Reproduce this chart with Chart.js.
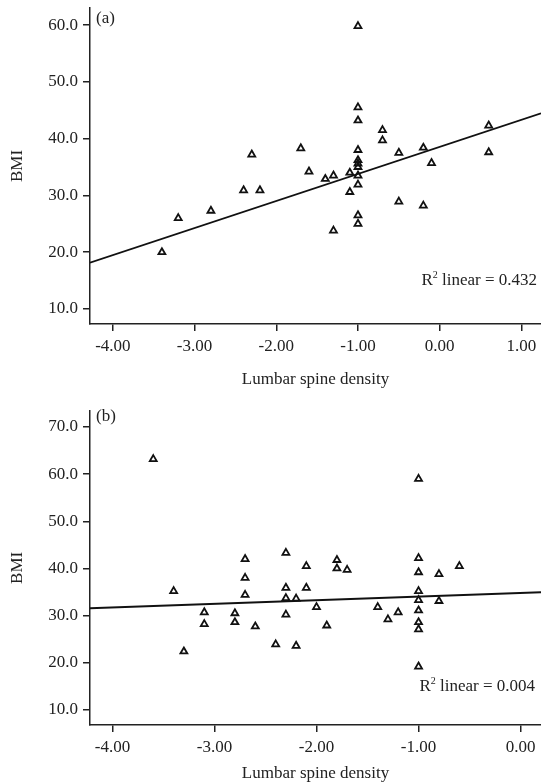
<!DOCTYPE html>
<html><head><meta charset="utf-8">
<script src="https://cdn.jsdelivr.net/npm/chart.js@4/dist/chart.umd.min.js"></script>
<style>
html,body{margin:0;padding:0;background:#fff;}
canvas{position:absolute;left:0;}
#cA{top:0;}
#cB{top:395px;}
</style></head><body>
<canvas id="cA" width="541" height="395"></canvas>
<canvas id="cB" width="541" height="388"></canvas>
<script>
// ---- Panel (a) data ----
const aX = [-3.4,-3.2,-2.8,-2.4,-2.3,-2.2,-1.7,-1.6,-1.4,-1.3,-1.3,-1.1,-1.1,
  -1.0,-1.0,-1.0,-1.0,-1.0,-1.0,-1.0,-1.0,-1.0,-1.0,-1.0,
  -0.7,-0.7,-0.5,-0.5,-0.2,-0.2,-0.1,0.6,0.6];
const aY = [20.0,26.0,27.3,30.9,37.2,30.9,38.3,34.2,32.9,33.5,23.8,34.0,30.6,
  59.8,45.5,43.2,38.0,36.2,35.6,35.0,33.5,31.9,26.5,25.0,
  41.5,39.7,37.5,28.9,38.4,28.2,35.7,42.3,37.6];
const aFit = [38.54, 4.76];          // intercept, slope
const aR2 = "0.432";
const aXTicks = [-4,-3,-2,-1,0,1];
const aYTicks = [10,20,30,40,50,60];

// ---- Panel (b) data ----
const bX = [-3.6,-3.4,-3.3,-3.1,-3.1,-2.8,-2.8,-2.7,-2.7,-2.7,-2.6,-2.4,
  -2.3,-2.3,-2.3,-2.3,-2.2,-2.2,-2.1,-2.1,-2.0,-1.9,-1.8,-1.8,-1.7,
  -1.4,-1.3,-1.2,-1.0,-1.0,-1.0,-1.0,-1.0,-1.0,-1.0,-1.0,-1.0,-0.8,-0.8,-0.6];
const bY = [63.2,35.2,22.4,30.7,28.2,30.5,28.6,42.0,38.0,34.4,27.7,23.9,
  43.3,35.9,33.7,30.2,33.6,23.6,40.5,35.9,31.8,27.9,41.8,40.0,39.7,
  31.8,29.2,30.7,59.0,42.2,39.2,35.2,33.3,31.1,28.6,27.1,19.2,38.8,33.1,40.5];
const bFit = [34.8, 0.767];
const bR2 = "0.004";
const bXTicks = [-4,-3,-2,-1,0];
const bYTicks = [10,20,30,40,50,60,70];

const xTitle = "Lumbar spine density";
const yTitle = "BMI";

const FONT = '"Liberation Serif", "Times New Roman", serif';
const INK = '#222';

const annot = {
  id: 'annot',
  afterDraw(chart) {
    const o = chart.options.plugins.annot;
    const ctx = chart.ctx, ca = chart.chartArea;
    ctx.save();
    ctx.fillStyle = INK;
    ctx.textBaseline = 'alphabetic';
    ctx.font = '17px ' + FONT;
    ctx.textAlign = 'left';
    ctx.fillText(o.label, ca.left + 6, ca.top + o.labelDy);
    const rest = ' linear = ' + o.r2;
    const wR = ctx.measureText('R').width;
    const wRest = ctx.measureText(rest).width;
    ctx.font = '10px ' + FONT;
    const w2 = ctx.measureText('2').width;
    const right = ca.right - o.rRight;
    const base = ca.bottom - o.rDy;
    let x = right - (wR + w2 + wRest);
    ctx.font = '17px ' + FONT;
    ctx.fillText('R', x, base); x += wR;
    ctx.font = '10px ' + FONT;
    ctx.fillText('2', x, base - 7); x += w2;
    ctx.font = '17px ' + FONT;
    ctx.fillText(rest, x, base);
    ctx.restore();
  }
};

function makeChart(id, xs, ys, fit, r2, xTicks, yTicks, cfg) {
  const pts = xs.map((x, i) => ({x: x, y: ys[i]}));
  const line = [cfg.xmin, cfg.xmax].map(x => ({x: x, y: fit[0] + fit[1] * x}));
  const axisCommon = {
    grid: {drawOnChartArea: false, drawTicks: true, tickLength: 7, color: INK, lineWidth: 1.5},
    border: {display: true, color: INK, width: 1.5},
  };
  return new Chart(document.getElementById(id), {
    type: 'scatter',
    data: {datasets: [
      {type: 'line', data: line, borderColor: '#111', borderWidth: 1.8, pointRadius: 0, fill: false, order: 2},
      {data: pts, pointStyle: 'triangle', pointRadius: 4, pointHoverRadius: 4,
       borderColor: '#111', borderWidth: 1.8, backgroundColor: 'rgba(0,0,0,0)', order: 1}
    ]},
    options: {
      responsive: false, animation: false,
      layout: {autoPadding: false, padding: {top: cfg.padTop, left: 0, right: 0, bottom: 0}},
      plugins: {legend: {display: false}, tooltip: {enabled: false},
        annot: cfg.annot},
      scales: {
        x: Object.assign({}, axisCommon, {
          type: 'linear', min: cfg.xmin, max: cfg.xmax,
          afterBuildTicks: s => { s.ticks = xTicks.map(v => ({value: v})); },
          afterFit: s => { s.height = cfg.xH; s.paddingLeft = 0; s.paddingRight = 0; },
          ticks: {callback: v => Number(v).toFixed(2), font: {family: FONT, size: 17}, color: INK,
                  padding: 5, autoSkip: false, maxRotation: 0},
          title: {display: true, text: xTitle, font: {family: FONT, size: 17}, color: INK,
                  padding: {top: 0, bottom: cfg.xTitlePad}}
        }),
        y: Object.assign({}, axisCommon, {
          type: 'linear', min: cfg.ymin, max: cfg.ymax,
          afterBuildTicks: s => { s.ticks = yTicks.map(v => ({value: v})); },
          afterFit: s => { s.width = 90; s.paddingTop = 0; s.paddingBottom = 0; },
          ticks: {callback: v => Number(v).toFixed(1), font: {family: FONT, size: 17}, color: INK,
                  padding: 5, autoSkip: false},
          title: {display: true, text: yTitle, font: {family: FONT, size: 17}, color: INK,
                  padding: {top: 7.8, bottom: 0}}
        })
      }
    },
    plugins: [annot]
  });
}

makeChart('cA', aX, aY, aFit, aR2, aXTicks, aYTicks, {
  xmin: -4.28, xmax: 1.24, ymin: 7.36, ymax: 63.0,
  padTop: 8, xH: 71, xTitlePad: 4.8,
  annot: {label: '(a)', labelDy: 15, r2: aR2, rRight: 4, rDy: 39}
});
makeChart('cB', bX, bY, bFit, bR2, bXTicks, bYTicks, {
  xmin: -4.22, xmax: 0.2, ymin: 6.8, ymax: 73.46,
  padTop: 15.7, xH: 58, xTitlePad: -1.2,
  annot: {label: '(b)', labelDy: 10.5, r2: bR2, rRight: 6, rDy: 34}
});
</script>
</body></html>
